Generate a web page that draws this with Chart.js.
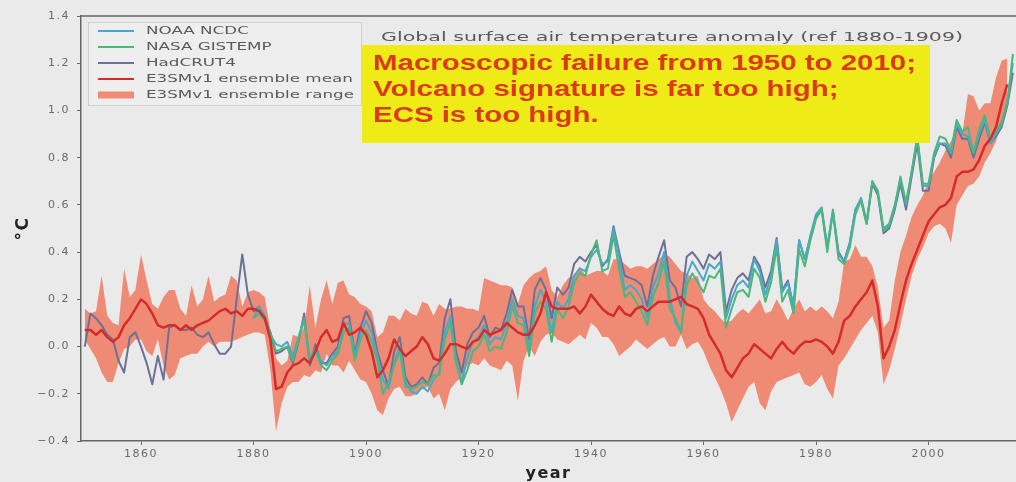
<!DOCTYPE html>
<html>
<head>
<meta charset="utf-8">
<title>Global surface air temperature anomaly</title>
<script src="https://cdn.jsdelivr.net/npm/chart.js@4.4.1/dist/chart.umd.min.js"></script>
<style>
    html, body { margin: 0; padding: 0; background: #eaeaea; }
    #wrap { width: 1016px; height: 482px; }
</style>
</head>
<body>
<div id="wrap"><canvas id="chart" width="1016" height="482"></canvas></div>
<script>
// Annual series (anomaly vs 1880-1909, degC)
const hadStartYear = 1850;
const obsStartYear = 1880;
const ensStartYear = 1850;

const xTickValues = [1860, 1880, 1900, 1920, 1940, 1960, 1980, 2000];
const yTickValues = [-0.4, -0.2, 0.0, 0.2, 0.4, 0.6, 0.8, 1.0, 1.2, 1.4];

// HadCRUT4, 1850-2015
const hadcrut4 = [
    0.00, 0.14, 0.12, 0.09, 0.05, 0.03, -0.06, -0.11, 0.04, 0.06,
    0.00, -0.07, -0.16, -0.04, -0.14, 0.08, 0.09, 0.07, 0.07, 0.08,
    0.05, 0.04, 0.06, 0.01, -0.03, -0.03, 0.00, 0.20, 0.39, 0.22,
    0.15, 0.17, 0.12, 0.06, -0.03, -0.02, 0.00, -0.07, 0.02, 0.14,
    -0.08, 0.01, -0.07, -0.07, -0.03, 0.00, 0.12, 0.13, -0.03, 0.08,
    0.15, 0.10, -0.02, -0.10, -0.17, -0.02, 0.04, -0.13, -0.17, -0.16,
    -0.13, -0.16, -0.09, -0.07, 0.12, 0.20, -0.02, -0.11, 0.01, 0.06,
    0.08, 0.13, 0.04, 0.08, 0.07, 0.14, 0.24, 0.17, 0.17, 0.03,
    0.24, 0.29, 0.24, 0.12, 0.25, 0.22, 0.25, 0.35, 0.38, 0.36,
    0.40, 0.43, 0.34, 0.37, 0.51, 0.40, 0.30, 0.29, 0.28, 0.26,
    0.17, 0.30, 0.38, 0.45, 0.28, 0.25, 0.17, 0.38, 0.40, 0.37,
    0.33, 0.39, 0.37, 0.40, 0.15, 0.24, 0.29, 0.31, 0.28, 0.38,
    0.34, 0.25, 0.32, 0.46, 0.24, 0.28, 0.17, 0.45, 0.37, 0.46,
    0.55, 0.58, 0.42, 0.57, 0.40, 0.36, 0.44, 0.58, 0.62, 0.52,
    0.69, 0.64, 0.48, 0.50, 0.58, 0.69, 0.58, 0.72, 0.86, 0.66,
    0.66, 0.80, 0.86, 0.85, 0.80, 0.93, 0.88, 0.88, 0.80, 0.88,
    0.95, 0.86, 0.89, 0.93, 1.02, 1.16
];

// NOAA NCDC, 1880-2015
const noaaNcdc = [
    0.12, 0.17, 0.13, 0.05, 0.01, 0.00, 0.02, -0.04, 0.04, 0.12,
    -0.05, -0.01, -0.06, -0.08, -0.04, -0.02, 0.09, 0.10, -0.04, 0.05,
    0.11, 0.06, -0.04, -0.14, -0.18, -0.07, 0.00, -0.15, -0.19, -0.20,
    -0.17, -0.19, -0.14, -0.11, 0.06, 0.13, -0.06, -0.15, -0.05, 0.02,
    0.04, 0.09, 0.01, 0.04, 0.03, 0.10, 0.20, 0.13, 0.12, -0.01,
    0.17, 0.24, 0.19, 0.06, 0.19, 0.16, 0.20, 0.30, 0.33, 0.32,
    0.38, 0.41, 0.35, 0.36, 0.50, 0.38, 0.24, 0.26, 0.24, 0.20,
    0.12, 0.25, 0.31, 0.40, 0.21, 0.10, 0.06, 0.30, 0.36, 0.32,
    0.28, 0.35, 0.33, 0.36, 0.12, 0.20, 0.26, 0.28, 0.25, 0.37,
    0.32, 0.22, 0.30, 0.45, 0.23, 0.27, 0.17, 0.45, 0.37, 0.47,
    0.56, 0.59, 0.42, 0.58, 0.39, 0.36, 0.44, 0.58, 0.63, 0.53,
    0.70, 0.66, 0.50, 0.52, 0.60, 0.71, 0.60, 0.74, 0.88, 0.68,
    0.68, 0.81, 0.86, 0.86, 0.82, 0.94, 0.90, 0.89, 0.82, 0.90,
    0.96, 0.86, 0.90, 0.94, 1.04, 1.20
];

// NASA GISTEMP, 1880-2015
const nasaGistemp = [
    0.12, 0.14, 0.11, 0.06, -0.02, -0.01, 0.00, -0.06, 0.03, 0.11,
    -0.07, -0.02, -0.08, -0.10, -0.06, -0.03, 0.06, 0.08, -0.06, 0.03,
    0.07, 0.02, -0.06, -0.20, -0.15, -0.08, -0.02, -0.17, -0.18, -0.17,
    -0.15, -0.16, -0.12, -0.12, 0.03, 0.10, -0.07, -0.16, -0.10, -0.02,
    0.00, 0.05, -0.02, 0.00, -0.01, 0.06, 0.17, 0.10, 0.09, -0.04,
    0.14, 0.19, 0.16, 0.02, 0.16, 0.12, 0.17, 0.27, 0.31, 0.30,
    0.39, 0.45, 0.32, 0.33, 0.47, 0.33, 0.21, 0.23, 0.19, 0.15,
    0.09, 0.21, 0.27, 0.36, 0.16, 0.12, 0.06, 0.26, 0.31, 0.27,
    0.23, 0.30, 0.29, 0.33, 0.08, 0.16, 0.23, 0.24, 0.21, 0.33,
    0.29, 0.19, 0.27, 0.42, 0.19, 0.24, 0.14, 0.41, 0.34, 0.45,
    0.54, 0.58, 0.40, 0.57, 0.37, 0.35, 0.42, 0.56, 0.62, 0.52,
    0.70, 0.65, 0.49, 0.51, 0.59, 0.72, 0.61, 0.74, 0.89, 0.69,
    0.69, 0.82, 0.89, 0.88, 0.83, 0.96, 0.91, 0.93, 0.82, 0.92,
    0.98, 0.88, 0.91, 0.95, 1.03, 1.24
];

// E3SMv1 ensemble mean, 1850-2014
const e3smMean = [
    0.07, 0.07, 0.05, 0.07, 0.04, 0.02, 0.04, 0.09, 0.12, 0.16,
    0.20, 0.18, 0.14, 0.09, 0.08, 0.09, 0.09, 0.07, 0.09, 0.07,
    0.09, 0.10, 0.11, 0.13, 0.15, 0.16, 0.14, 0.15, 0.13, 0.16,
    0.16, 0.15, 0.12, 0.03, -0.18, -0.17, -0.11, -0.08, -0.07, -0.05,
    -0.07, -0.02, 0.04, 0.07, 0.02, 0.03, 0.10, 0.05, 0.06, 0.08,
    0.05, -0.02, -0.13, -0.10, -0.05, 0.03, -0.01, -0.04, -0.02, 0.00,
    0.04, 0.01, -0.05, -0.06, -0.03, 0.01, 0.01, 0.00, -0.01, 0.02,
    0.03, 0.07, 0.05, 0.06, 0.07, 0.10, 0.08, 0.06, 0.05, 0.05,
    0.09, 0.14, 0.23, 0.17, 0.16, 0.16, 0.16, 0.17, 0.14, 0.17,
    0.22, 0.19, 0.16, 0.14, 0.13, 0.17, 0.14, 0.13, 0.16, 0.17,
    0.15, 0.17, 0.19, 0.19, 0.19, 0.20, 0.21, 0.18, 0.17, 0.16,
    0.12, 0.05, 0.01, -0.03, -0.10, -0.13, -0.09, -0.05, -0.03, 0.01,
    -0.01, -0.03, -0.05, -0.01, 0.02, -0.01, -0.03, 0.00, 0.02, 0.02,
    0.03, 0.02, 0.00, -0.03, 0.02, 0.11, 0.13, 0.17, 0.20, 0.23,
    0.28, 0.17, -0.05, 0.00, 0.07, 0.18, 0.28, 0.35, 0.41, 0.47,
    0.53, 0.56, 0.59, 0.60, 0.63, 0.72, 0.74, 0.74, 0.75, 0.79,
    0.85, 0.88, 0.93, 1.03, 1.11
];

// E3SMv1 ensemble range, lower edge, 1850-2014
const e3smMin = [
    0.03, -0.01, -0.05, -0.11, -0.15, -0.15, -0.07, -0.01, 0.00, 0.03,
    0.03, -0.02, -0.04, 0.03, -0.08, -0.14, -0.12, -0.05, -0.04, -0.03,
    -0.03, 0.00, 0.02, 0.00, 0.02, 0.02, 0.02, 0.03, 0.04, 0.05,
    0.06, 0.06, 0.05, -0.10, -0.36, -0.24, -0.17, -0.15, -0.15, -0.12,
    -0.13, -0.10, -0.11, -0.03, -0.08, -0.08, -0.11, -0.06, -0.10, -0.14,
    -0.15, -0.20, -0.27, -0.29, -0.22, -0.18, -0.17, -0.21, -0.21, -0.20,
    -0.18, -0.17, -0.22, -0.20, -0.27, -0.18, -0.15, -0.13, -0.08, -0.07,
    -0.08, -0.05, -0.08, -0.09, -0.10, -0.06, -0.08, -0.23, -0.06, 0.00,
    -0.04, 0.02, 0.05, 0.06, 0.03, 0.02, 0.01, 0.03, 0.05, 0.03,
    0.10, 0.08, 0.04, 0.04, 0.01, -0.04, -0.02, 0.00, 0.03, 0.01,
    -0.01, 0.01, 0.03, 0.04, 0.00, 0.00, 0.05, -0.01, 0.01, 0.02,
    -0.02, -0.08, -0.13, -0.18, -0.24, -0.32, -0.27, -0.22, -0.17, -0.15,
    -0.24, -0.27, -0.19, -0.15, -0.14, -0.13, -0.12, -0.11, -0.16, -0.17,
    -0.15, -0.12, -0.18, -0.22, -0.08, -0.05, -0.01, 0.03, 0.07, 0.10,
    0.13, 0.06, -0.16, -0.10, -0.01, 0.09, 0.20, 0.30, 0.37, 0.42,
    0.48, 0.51, 0.52, 0.50, 0.44, 0.60, 0.64, 0.68, 0.69, 0.72,
    0.78, 0.82, 0.87, 0.95, 1.05
];

// E3SMv1 ensemble range, upper edge, 1850-2014
const e3smMax = [
    0.16, 0.14, 0.15, 0.30, 0.13, 0.10, 0.09, 0.33, 0.21, 0.24,
    0.39, 0.28, 0.18, 0.16, 0.21, 0.24, 0.24, 0.16, 0.13, 0.26,
    0.17, 0.20, 0.30, 0.19, 0.21, 0.22, 0.30, 0.28, 0.17, 0.23,
    0.24, 0.23, 0.21, 0.07, -0.05, -0.08, -0.06, 0.05, 0.04, 0.08,
    0.26, 0.08, 0.20, 0.28, 0.18, 0.27, 0.28, 0.22, 0.21, 0.18,
    0.17, 0.15, 0.04, 0.06, 0.13, 0.13, 0.11, 0.16, 0.14, 0.13,
    0.19, 0.18, 0.13, 0.18, 0.16, 0.16, 0.17, 0.17, 0.16, 0.16,
    0.15, 0.29, 0.28, 0.27, 0.26, 0.26, 0.25, 0.18, 0.26, 0.29,
    0.31, 0.32, 0.34, 0.24, 0.21, 0.26, 0.29, 0.30, 0.34, 0.30,
    0.31, 0.32, 0.32, 0.30, 0.37, 0.37, 0.35, 0.33, 0.34, 0.34,
    0.33, 0.35, 0.37, 0.39, 0.38, 0.35, 0.32, 0.31, 0.29, 0.30,
    0.20, 0.17, 0.15, 0.12, 0.10, 0.11, 0.14, 0.16, 0.14, 0.17,
    0.20, 0.14, 0.15, 0.20, 0.16, 0.11, 0.16, 0.20, 0.15, 0.17,
    0.15, 0.17, 0.15, 0.12, 0.19, 0.36, 0.37, 0.43, 0.38, 0.38,
    0.34, 0.25, 0.08, 0.11, 0.28, 0.40, 0.47, 0.55, 0.60, 0.64,
    0.70, 0.74, 0.78, 0.83, 0.87, 0.92, 0.90, 1.07, 1.06, 1.00,
    1.03, 1.03, 1.14, 1.21, 1.22
];

const chartTitle = 'Global surface air temperature anomaly (ref 1880-1909)';
const noteLines = [
    'Macroscopic failure from 1950 to 2010;',
    'Volcano signature is far too high;',
    'ECS is too high.'
];

// Colours
const COLORS = {
    noaa: '#46a9c8',
    nasa: '#4cb67c',
    hadcrut: '#6d7095',
    mean: '#d42b2b',
    range: 'rgba(240, 118, 92, 0.82)',
    text: '#5a5a5a',
    axis: '#666666'
};

function toPoints(values, startYear) {
    return values.map((v, i) => ({ x: startYear + i, y: v }));
}

// Draw text squeezed/stretched to a given width (the slide is stretched horizontally)
function drawStretched(ctx, text, x, y, sx) {
    ctx.save();
    ctx.translate(x, y);
    ctx.scale(sx, 1);
    ctx.fillText(text, 0, 0);
    ctx.restore();
}

// Letter spacing for the tick labels, reset before overlays are drawn
const spacingPlugin = {
    id: 'spacing',
    beforeDraw(chart) {
        chart.ctx.letterSpacing = '1.5px';
    },
    afterDraw(chart) {
        chart.ctx.letterSpacing = '0px';
    }
};

// Top spine, title, legend box and yellow note
const overlayPlugin = {
    id: 'overlay',
    afterDraw(chart) {
        const ctx = chart.ctx;
        const area = chart.chartArea;
        ctx.save();
        ctx.letterSpacing = '0px';

        // top spine
        ctx.strokeStyle = COLORS.axis;
        ctx.lineWidth = 1.5;
        ctx.beginPath();
        ctx.moveTo(area.left, area.top);
        ctx.lineTo(area.right, area.top);
        ctx.stroke();

        // title inside the axes
        ctx.fillStyle = COLORS.text;
        ctx.font = '12px "DejaVu Sans"';
        ctx.textBaseline = 'middle';
        ctx.textAlign = 'left';
        const tw = ctx.measureText(chartTitle).width;
        drawStretched(ctx, chartTitle, 381, 38, 582 / tw);

        // legend
        const lx = 88, ly = 22, lw = 273, lh = 83;
        ctx.fillStyle = 'rgba(238, 238, 238, 0.9)';
        ctx.strokeStyle = '#cfcfcf';
        ctx.lineWidth = 1;
        ctx.fillRect(lx, ly, lw, lh);
        ctx.strokeRect(lx + 0.5, ly + 0.5, lw, lh);

        const ds = chart.data.datasets;
        const entries = [ds[2], ds[3], ds[4], ds[5], ds[0]];
        ctx.font = '11px "DejaVu Sans"';
        const widest = Math.max(...entries.map(d => ctx.measureText(d.label).width));
        const sx = 208 / widest;
        entries.forEach((d, i) => {
            const y = 31 + i * 16;
            if (d.fill) {
                ctx.fillStyle = d.backgroundColor;
                ctx.fillRect(98, y - 3.5, 36, 7);
            } else {
                ctx.strokeStyle = d.borderColor;
                ctx.lineWidth = 2;
                ctx.beginPath();
                ctx.moveTo(98, y);
                ctx.lineTo(134, y);
                ctx.stroke();
            }
            ctx.fillStyle = COLORS.text;
            drawStretched(ctx, d.label, 146, y, sx);
        });

        // yellow note box
        ctx.fillStyle = '#efeb16';
        ctx.fillRect(362, 45, 568, 98);
        ctx.fillStyle = '#dc3a17';
        ctx.font = 'bold 22px "Liberation Sans"';
        ctx.textBaseline = 'alphabetic';
        const nw = ctx.measureText(noteLines[0]).width;
        const nsx = 543 / nw;
        noteLines.forEach((line, i) => {
            drawStretched(ctx, line, 373, 70 + i * 26, nsx);
        });

        ctx.restore();
    }
};

function initChart() {
    Chart.defaults.font.family = '"DejaVu Sans"';
    Chart.defaults.color = COLORS.text;

    const ctx = document.getElementById('chart').getContext('2d');
    new Chart(ctx, {
        type: 'line',
        data: {
            datasets: [
                {
                    label: 'E3SMv1 ensemble range',
                    data: toPoints(e3smMax, ensStartYear),
                    borderWidth: 0,
                    backgroundColor: COLORS.range,
                    fill: '+1',
                    order: 10
                },
                {
                    label: 'range low',
                    data: toPoints(e3smMin, ensStartYear),
                    borderWidth: 0,
                    fill: false,
                    order: 11
                },
                {
                    label: 'NOAA NCDC',
                    data: toPoints(noaaNcdc, obsStartYear),
                    borderColor: COLORS.noaa,
                    borderWidth: 2,
                    fill: false,
                    order: 2
                },
                {
                    label: 'NASA GISTEMP',
                    data: toPoints(nasaGistemp, obsStartYear),
                    borderColor: COLORS.nasa,
                    borderWidth: 2,
                    fill: false,
                    order: 1
                },
                {
                    label: 'HadCRUT4',
                    data: toPoints(hadcrut4, hadStartYear),
                    borderColor: COLORS.hadcrut,
                    borderWidth: 2,
                    fill: false,
                    order: 3
                },
                {
                    label: 'E3SMv1 ensemble mean',
                    data: toPoints(e3smMean, ensStartYear),
                    borderColor: COLORS.mean,
                    borderWidth: 2.5,
                    fill: false,
                    order: 0
                }
            ]
        },
        options: {
            responsive: false,
            animation: false,
            layout: { padding: { top: 16, right: 0, left: 0, bottom: 0 } },
            elements: {
                point: { radius: 0 },
                line: { tension: 0, borderJoinStyle: 'round' }
            },
            plugins: {
                legend: { display: false },
                tooltip: { enabled: false },
                filler: { propagate: false }
            },
            scales: {
                x: {
                    type: 'linear',
                    min: 1849.33,
                    max: 2015.55,
                    afterBuildTicks: scale => {
                        scale.ticks = xTickValues.map(v => ({ value: v }));
                    },
                    afterFit: scale => { scale.height = 41; },
                    grid: {
                        drawOnChartArea: false,
                        drawTicks: true,
                        tickLength: 4,
                        color: COLORS.axis
                    },
                    border: { display: true, color: COLORS.axis, width: 1.5 },
                    ticks: {
                        color: '#6a6a6a',
                        font: { size: 11 },
                        padding: 3,
                        maxRotation: 0,
                        callback: value => String(value)
                    },
                    title: {
                        display: true,
                        text: 'year',
                        color: '#222',
                        font: { size: 16, weight: 'bold', lineHeight: 1 },
                        padding: { top: 0, bottom: 0 }
                    }
                },
                y: {
                    min: -0.4,
                    max: 1.4,
                    afterBuildTicks: scale => {
                        scale.ticks = yTickValues.map(v => ({ value: v }));
                    },
                    afterFit: scale => { scale.width = 81; },
                    grid: {
                        drawOnChartArea: false,
                        drawTicks: true,
                        tickLength: 4,
                        color: COLORS.axis
                    },
                    border: { display: true, color: COLORS.axis, width: 1.5 },
                    ticks: {
                        color: '#6a6a6a',
                        font: { size: 11 },
                        padding: 7,
                        callback: value => (value < 0 ? '\u2212' : '') + Math.abs(value).toFixed(1)
                    },
                    title: {
                        display: true,
                        text: '\u00b0C',
                        color: '#222',
                        font: { size: 17, weight: 'bold', lineHeight: 1.2 },
                        padding: { top: 13, bottom: 0 }
                    }
                }
            }
        },
        plugins: [spacingPlugin, overlayPlugin]
    });
}

if (document.readyState === 'loading') {
    document.addEventListener('DOMContentLoaded', initChart);
} else {
    initChart();
}
</script>
</body>
</html>
